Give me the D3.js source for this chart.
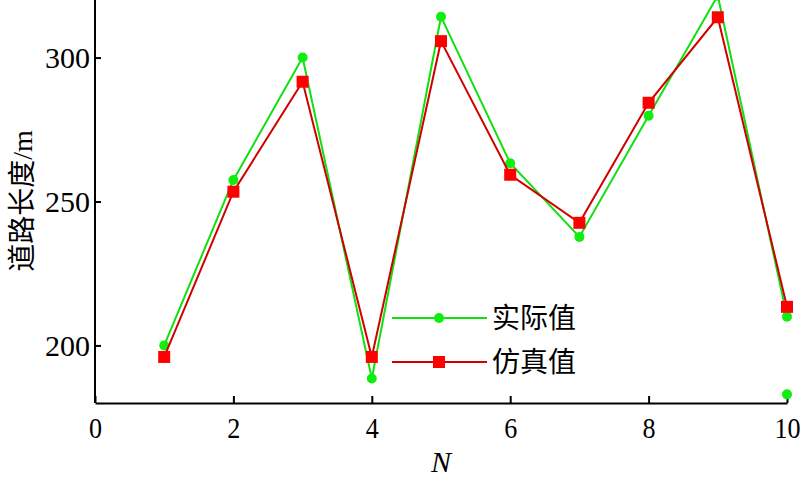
<!DOCTYPE html>
<html>
<head>
<meta charset="utf-8">
<script src="https://cdn.jsdelivr.net/npm/d3@7"></script>
<style>
  body { margin: 0; background: #fff; }
  svg text { fill: #000; }
</style>
</head>
<body>
<div id="app"></div>
<script>
// Data
const nValues = [1, 2, 3, 4, 5, 6, 7, 8, 9, 10];
const actualValues = [200, 257.5, 300, 188.5, 314.2, 263.3, 237.7, 279.8, 321.5, 210];
const simValues = [196, 253.4, 291.6, 196, 305.7, 259.3, 242.6, 284.3, 314, 213.4];
// lone green dot near the bottom right
const strayN = [10];
const strayValues = [183];

const xTicks = [0, 2, 4, 6, 8, 10];
const yTicks = [200, 250, 300];
const legendNames = ['实际值', '仿真值'];

const width = 800;
const height = 481;
const margin = { top: 0, right: 13, bottom: 78, left: 95 };

const greenLine = '#10e010';
const greenDot = '#10ee10';
const redLine = '#d00000';
const redDot = '#ff0000';

const svg = d3.select('#app').append('svg')
  .attr('width', width)
  .attr('height', height);

const plotW = width - margin.left - margin.right;
const plotH = height - margin.top - margin.bottom;

const xScale = d3.scaleLinear().domain([0, 10]).range([0, plotW]);
const yScale = d3.scaleLinear().domain([180, 320]).range([plotH, 0]);

const g = svg.append('g')
  .attr('transform', `translate(${margin.left},${margin.top})`);

// axes (MATLAB style, ticks pointing inwards)
const xAxis = d3.axisBottom(xScale).tickValues(xTicks).tickSizeInner(-7).tickSizeOuter(0).tickPadding(14);
const yAxis = d3.axisLeft(yScale).tickValues(yTicks).tickSizeInner(-6).tickSizeOuter(0).tickPadding(5);

const xAxisGroup = g.append('g')
  .attr('transform', `translate(0,${plotH})`)
  .call(xAxis);
const yAxisGroup = g.append('g').call(yAxis);

[xAxisGroup, yAxisGroup].forEach(ax => {
  ax.select('.domain').attr('stroke', '#000').attr('stroke-width', 2);
  ax.selectAll('.tick line').attr('stroke', '#000').attr('stroke-width', 2);
  ax.selectAll('.tick text')
    .attr('font-family', 'Liberation Serif, Times New Roman, serif')
    .attr('font-size', 30)
    .attr('fill', '#000');
});
// y axis ends at the top, x axis spans full width
yAxisGroup.select('.domain').attr('d', `M0,${yScale(180)}V${yScale(320)}`);
// the reference digits are a bit narrow
xAxisGroup.selectAll('.tick text').attr('dy', '0.71em').attr('transform', 'scale(0.87,1)');
yAxisGroup.selectAll('.tick text').attr('dy', '0.34em');

// axis titles
svg.append('text')
  .attr('x', margin.left + xScale(5))
  .attr('y', 472)
  .attr('text-anchor', 'middle')
  .attr('font-family', 'Liberation Serif, Times New Roman, serif')
  .attr('font-style', 'italic')
  .attr('font-size', 30)
  .text('N');

svg.append('text')
  .attr('transform', `translate(32,${201}) rotate(-90)`)
  .attr('text-anchor', 'middle')
  .attr('font-family', 'Liberation Serif, Noto Sans CJK SC, serif')
  .attr('font-size', 28)
  .text('道路长度/m');

const lineFunc = d3.line()
  .x(d => xScale(d[0]))
  .y(d => yScale(d[1]));

const actualPts = nValues.map((n, i) => [n, actualValues[i]]);
const simPts = nValues.map((n, i) => [n, simValues[i]]);
const strayPts = strayN.map((n, i) => [n, strayValues[i]]);

// actual (green)
g.append('path')
  .attr('d', lineFunc(actualPts))
  .attr('fill', 'none')
  .attr('stroke', greenLine)
  .attr('stroke-width', 2);

g.selectAll('circle.actual')
  .data(actualPts.concat(strayPts))
  .enter()
  .append('circle')
  .classed('actual', true)
  .attr('cx', d => xScale(d[0]))
  .attr('cy', d => yScale(d[1]))
  .attr('r', 5)
  .attr('fill', greenDot);

// simulated (red)
g.append('path')
  .attr('d', lineFunc(simPts))
  .attr('fill', 'none')
  .attr('stroke', redLine)
  .attr('stroke-width', 2);

const sq = 12;
g.selectAll('rect.sim')
  .data(simPts)
  .enter()
  .append('rect')
  .classed('sim', true)
  .attr('x', d => xScale(d[0]) - sq / 2)
  .attr('y', d => yScale(d[1]) - sq / 2)
  .attr('width', sq)
  .attr('height', sq)
  .attr('fill', redDot);

// legend
const legend = svg.append('g').attr('transform', 'translate(392,318)');
const legendRows = [
  { name: legendNames[0], line: greenLine, dot: greenDot, shape: 'circle' },
  { name: legendNames[1], line: redLine, dot: redDot, shape: 'square' },
];
legendRows.forEach((row, i) => {
  const y = i * 44;
  legend.append('line')
    .attr('x1', 0).attr('x2', 95)
    .attr('y1', y).attr('y2', y)
    .attr('stroke', row.line)
    .attr('stroke-width', 2);
  if (row.shape === 'circle') {
    legend.append('circle').attr('cx', 47).attr('cy', y).attr('r', 5).attr('fill', row.dot);
  } else {
    legend.append('rect').attr('x', 47 - sq / 2).attr('y', y - sq / 2)
      .attr('width', sq).attr('height', sq).attr('fill', row.dot);
  }
  legend.append('text')
    .attr('x', 100)
    .attr('y', y)
    .attr('dy', '0.36em')
    .attr('font-family', 'Noto Sans CJK SC, sans-serif')
    .attr('font-size', 28)
    .text(row.name);
});
</script>
</body>
</html>
